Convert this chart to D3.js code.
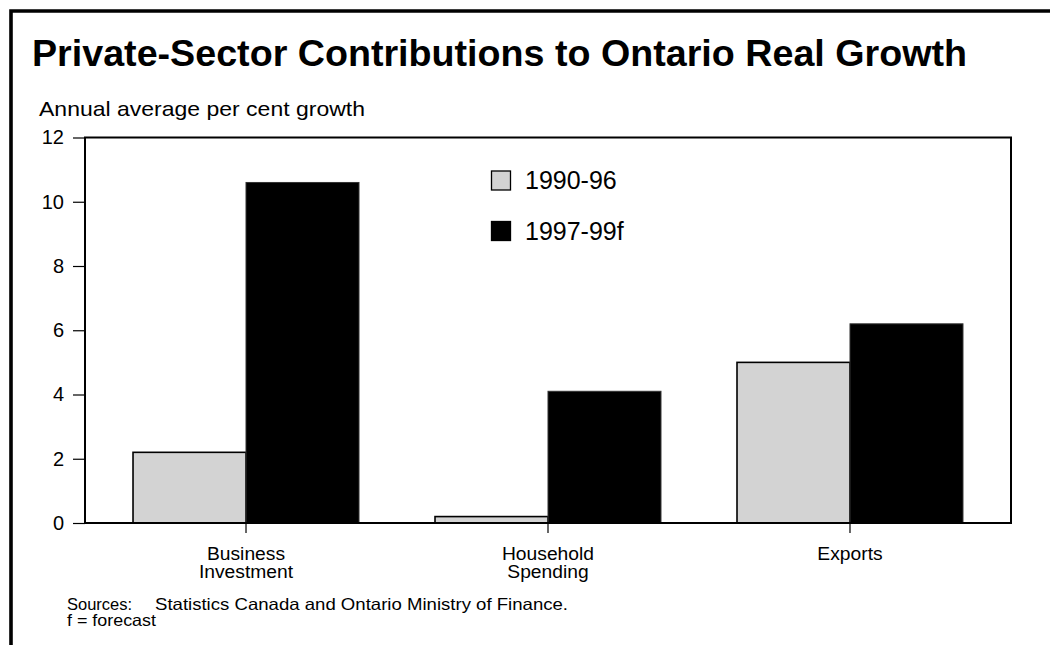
<!DOCTYPE html>
<html>
<head>
<meta charset="utf-8">
<script src="https://cdn.jsdelivr.net/npm/d3@7"></script>
<style>
  html, body { margin: 0; padding: 0; background: #fff; }
  svg { display: block; font-family: "Liberation Sans", Arial, sans-serif; }
</style>
</head>
<body>
<svg id="chart" width="1050" height="645"></svg>
<script>
// Chart data
const categories = [["Business", "Investment"], ["Household", "Spending"], ["Exports"]];
const seriesNames = ["1990-96", "1997-99f"];
const values1990_96 = [2.2, 0.2, 5.0];
const values1997_99f = [10.6, 4.1, 6.2];
const yTicks = [0, 2, 4, 6, 8, 10, 12];
const seriesColors = ["#d3d3d3", "#000000"];

const svg = d3.select("#chart");
const plot = { left: 85, right: 1011, top: 137.5, bottom: 523 };

// Outer frame (open on right and bottom)
svg.append("path")
  .attr("d", "M11,645 L11,11 L1050,11")
  .attr("fill", "none").attr("stroke", "#000").attr("stroke-width", 3.6);

// Title
svg.append("text")
  .attr("x", 32).attr("y", 66)
  .attr("font-size", 37.5).attr("font-weight", "bold")
  .attr("textLength", 935).attr("lengthAdjust", "spacingAndGlyphs")
  .text("Private-Sector Contributions to Ontario Real Growth");

svg.append("text")
  .attr("x", 39).attr("y", 116)
  .attr("font-size", 21)
  .attr("textLength", 326).attr("lengthAdjust", "spacingAndGlyphs")
  .text("Annual average per cent growth");

const catKeys = categories.map(c => c.join(" "));
const x = d3.scaleBand().domain(catKeys)
  .range([plot.left, plot.right]).paddingInner(0.2517).paddingOuter(0.159);
const xSub = d3.scaleBand().domain(seriesNames).range([0, x.bandwidth()]);
const y = d3.scaleLinear().domain([0, 12]).range([plot.bottom, plot.top]);

// Bars
const series = [values1990_96, values1997_99f];
series.forEach((vals, si) => {
  svg.append("g").selectAll("rect").data(vals).join("rect")
    .attr("x", (d, i) => x(catKeys[i]) + xSub(seriesNames[si]))
    .attr("y", d => y(d))
    .attr("width", xSub.bandwidth())
    .attr("height", d => y(0) - y(d))
    .attr("fill", seriesColors[si])
    .attr("stroke", si === 0 ? "#000" : "#333")
    .attr("stroke-width", si === 0 ? 1.6 : 1);
});

// Plot frame
svg.append("rect")
  .attr("x", plot.left).attr("y", plot.top)
  .attr("width", plot.right - plot.left).attr("height", plot.bottom - plot.top)
  .attr("fill", "none").attr("stroke", "#000").attr("stroke-width", 2);

// Y axis
const yAxis = svg.append("g")
  .attr("transform", `translate(${plot.left},0)`)
  .call(d3.axisLeft(y).tickValues(yTicks).tickSize(12).tickPadding(9).tickFormat(d3.format("d")));
yAxis.select(".domain").remove();
yAxis.selectAll("line").attr("stroke", "#000").attr("stroke-width", 1.2);
yAxis.selectAll("text").attr("font-size", 20).attr("fill", "#000")
  .attr("font-family", "Liberation Sans, Arial, sans-serif");

// X axis ticks at category centres
const xAxis = svg.append("g")
  .attr("transform", `translate(0,${plot.bottom})`)
  .call(d3.axisBottom(x).tickSize(10).tickFormat(""));
xAxis.select(".domain").remove();
xAxis.selectAll("line").attr("stroke", "#000").attr("stroke-width", 1.2);

// Category labels (two lines, tight leading, slightly widened face)
categories.forEach((lines, i) => {
  const cx = x(catKeys[i]) + x.bandwidth() / 2;
  lines.forEach((ln, j) => {
    const t = svg.append("text").attr("text-anchor", "middle").attr("font-size", 17.5)
      .attr("x", cx).attr("y", 560 + j * 18).text(ln);
    const w = t.node().getComputedTextLength();
    t.attr("textLength", w * 1.1).attr("lengthAdjust", "spacingAndGlyphs");
  });
});

// Legend
const legend = svg.append("g");
seriesNames.forEach((name, i) => {
  const ly = 171 + i * 50.5;
  legend.append("rect")
    .attr("x", 491.5).attr("y", ly).attr("width", 19).attr("height", 19)
    .attr("fill", seriesColors[i]).attr("stroke", "#000").attr("stroke-width", 1.3);
  legend.append("text")
    .attr("x", 525).attr("y", ly + 18)
    .attr("font-size", 25)
    .text(name);
});

// Notes
svg.append("text").attr("x", 67).attr("y", 610).attr("font-size", 16.5)
  .text("Sources:");
svg.append("text").attr("x", 155).attr("y", 610).attr("font-size", 16.5)
  .attr("textLength", 413).attr("lengthAdjust", "spacingAndGlyphs")
  .text("Statistics Canada and Ontario Ministry of Finance.");
svg.append("text").attr("x", 67).attr("y", 626).attr("font-size", 16.5)
  .attr("textLength", 89).attr("lengthAdjust", "spacingAndGlyphs")
  .text("f = forecast");
</script>
</body>
</html>
